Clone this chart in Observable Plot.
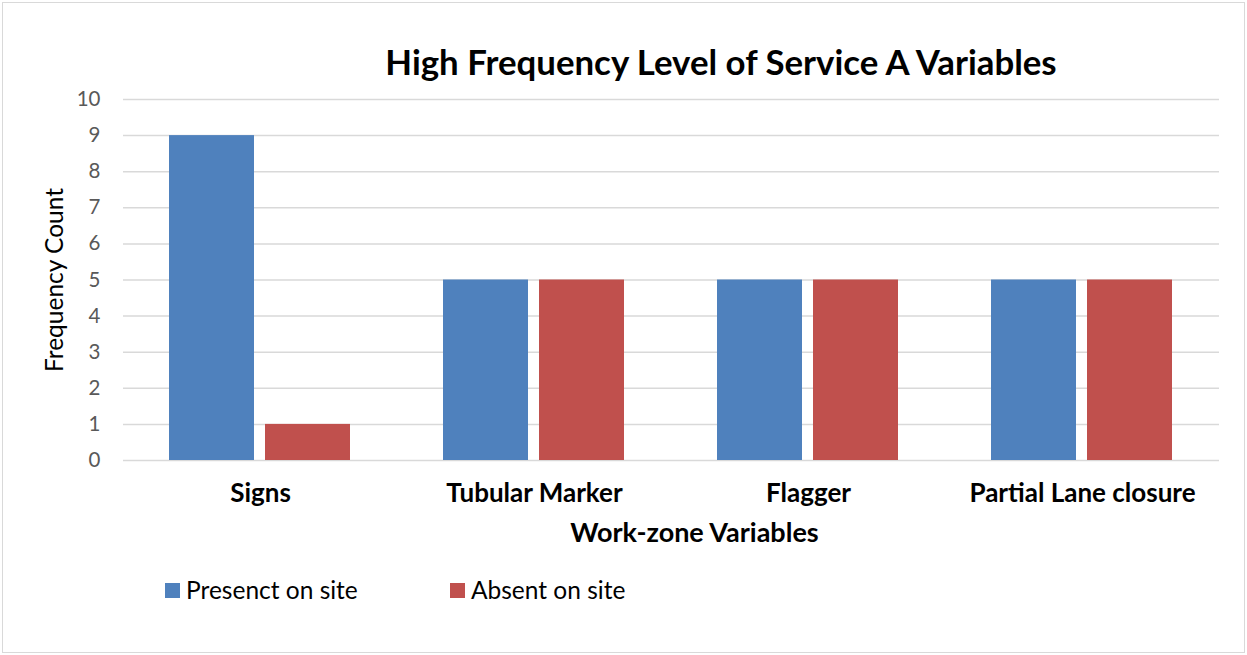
<!DOCTYPE html>
<html><head><meta charset="utf-8">
<script src="https://cdn.jsdelivr.net/npm/d3@7"></script>
<script src="https://cdn.jsdelivr.net/npm/@observablehq/plot@0.6"></script>
<style>
html,body{margin:0;padding:0;background:#fff;}
body{width:1247px;height:655px;overflow:hidden;font-family:Lato,"Open Sans",sans-serif;}
#frame{position:absolute;left:2px;top:2px;width:1241px;height:649px;border:1px solid #d9d9d9;background:#fff;}
#title{height:82px;box-sizing:border-box;padding-top:40px;padding-left:195px;text-align:center;font-weight:700;font-size:34.8px;line-height:38px;color:#000;margin:0;}
#chart svg{display:block;}
#legend{display:flex;height:30px;margin-top:25px;padding-left:162px;font-size:24.5px;line-height:30px;color:#000;}
.item{width:285px;display:flex;align-items:center;}
.sw{width:15px;height:15px;margin-right:6px;flex:none;}
</style>
</head><body>
<div id="frame">
  <div id="title">High Frequency Level of Service A Variables</div>
  <div id="chart"></div>
  <div id="legend"></div>
</div>
<script>
const categories = ["Signs", "Tubular Marker", "Flagger", "Partial Lane closure"];
const seriesNames = ["Presenct on site", "Absent on site"];
const presentValues = [9, 5, 5, 5];
const absentValues = [1, 5, 5, 5];
const yTicks = [0, 1, 2, 3, 4, 5, 6, 7, 8, 9, 10];
const seriesColors = ["#4F81BD", "#C0504D"];
const xTitle = "Work-zone Variables";
const yTitle = "Frequency Count";

const data = categories.flatMap((c, i) => [
  {category: c, series: seriesNames[0], value: presentValues[i]},
  {category: c, series: seriesNames[1], value: absentValues[i]}
]);

const chart = Plot.plot({
  width: 1241,
  height: 465,
  marginTop: 14,
  marginBottom: 90,
  marginLeft: 119,
  marginRight: 24,
  style: {fontFamily: "Lato, 'Open Sans', sans-serif", background: "#fff", overflow: "visible"},
  fx: {domain: categories, padding: 0, label: null},
  x: {domain: seriesNames, paddingInner: 0.113, paddingOuter: 0.47, axis: null},
  y: {domain: [0, 10], axis: null},
  color: {domain: seriesNames, range: seriesColors},
  marks: [
    Plot.gridY(yTicks, {stroke: "#d9d9d9", strokeOpacity: 1, strokeWidth: 1.5}),
    Plot.barY(data, {fx: "category", x: "series", y: "value", fill: "series"}),
    Plot.axisY(yTicks, {tickSize: 0, tickPadding: 23, fontSize: 20.5, fill: "#595959", label: null}),
    Plot.axisY([], {tickSize: 0, label: yTitle, labelAnchor: "center", labelArrow: false, labelOffset: 78, fontSize: 24.5, fill: "#000"}),
    Plot.axisFx({anchor: "bottom", tickSize: 0, tickPadding: 23, fontSize: 26, fontWeight: "bold", fill: "#000", label: null}),
    Plot.text([xTitle], {frameAnchor: "bottom", dx: 23, dy: 81, fontSize: 27, fontWeight: "bold", fill: "#000", facet: "super"})
  ]
});
document.getElementById("chart").appendChild(chart);

const legend = document.getElementById("legend");
seriesNames.forEach((name, i) => {
  const item = document.createElement("div");
  item.className = "item";
  const sw = document.createElement("span");
  sw.className = "sw";
  sw.style.background = seriesColors[i];
  const label = document.createElement("span");
  label.textContent = name;
  item.appendChild(sw);
  item.appendChild(label);
  legend.appendChild(item);
});
</script>
</body></html>
